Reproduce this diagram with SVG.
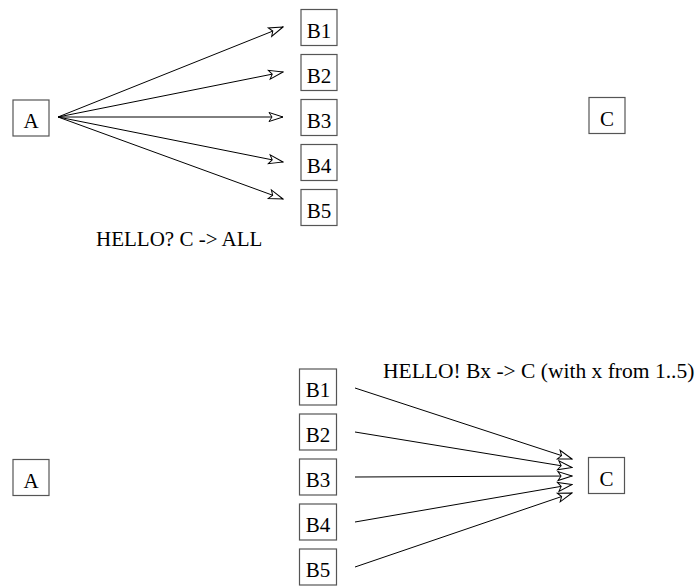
<svg xmlns="http://www.w3.org/2000/svg" width="697" height="586" viewBox="0 0 697 586">
  <style>
    .box { fill: #ffffff; stroke: #555555; stroke-width: 1.2; }
    .lbl { font-family: "Liberation Serif", "Times New Roman", serif; font-size: 21px; fill: #000000; text-anchor: middle; }
    .cap { font-family: "Liberation Serif", "Times New Roman", serif; font-size: 21px; fill: #000000; }
    .edge { stroke: #000000; stroke-width: 1; fill: none; marker-end: url(#open); }
  </style>
  <defs>
    <marker id="open" viewBox="-16 -6 17 12" refX="0" refY="0" markerWidth="17" markerHeight="12" markerUnits="userSpaceOnUse" orient="auto">
      <path d="M0,0 L-14,-4.5 L-11,0 L-14,4.5 Z" fill="#ffffff" stroke="#000000" stroke-width="1" stroke-linejoin="miter"/>
    </marker>
  </defs>

  <!-- upper scene: A broadcasts to every B -->
  <g id="connectors-top">
    <line class="edge" x1="58" y1="117" x2="283" y2="27"/>
    <line class="edge" x1="58" y1="117" x2="283" y2="72"/>
    <line class="edge" x1="58" y1="117" x2="283" y2="117"/>
    <line class="edge" x1="58" y1="117" x2="283" y2="162"/>
    <line class="edge" x1="58" y1="117" x2="283" y2="199"/>
  </g>
  <g id="A1"><rect class="box" x="13" y="100" width="36" height="36"/><text class="lbl" x="31" y="128">A</text></g>
  <g id="B1a"><rect class="box" x="301" y="9.5" width="36" height="36"/><text class="lbl" x="319" y="37.5">B1</text></g>
  <g id="B2a"><rect class="box" x="301" y="54.5" width="36" height="36"/><text class="lbl" x="319" y="82.5">B2</text></g>
  <g id="B3a"><rect class="box" x="301" y="99.5" width="36" height="36"/><text class="lbl" x="319" y="127.5">B3</text></g>
  <g id="B4a"><rect class="box" x="301" y="144.5" width="36" height="36"/><text class="lbl" x="319" y="172.5">B4</text></g>
  <g id="B5a"><rect class="box" x="301" y="189.5" width="36" height="36"/><text class="lbl" x="319" y="217.5">B5</text></g>
  <g id="C1"><rect class="box" x="589" y="97.5" width="36" height="36"/><text class="lbl" x="607" y="125.5">C</text></g>
  <text class="cap" x="96" y="246">HELLO? C -&gt; ALL</text>

  <!-- lower scene: every B answers C -->
  <g id="connectors-bottom">
    <line class="edge" x1="355" y1="388" x2="572" y2="459"/>
    <line class="edge" x1="355" y1="432" x2="572" y2="467.5"/>
    <line class="edge" x1="355" y1="477" x2="572" y2="476"/>
    <line class="edge" x1="355" y1="522" x2="572" y2="484.5"/>
    <line class="edge" x1="355" y1="567" x2="572" y2="493"/>
  </g>
  <g id="A2"><rect class="box" x="13" y="459.5" width="36" height="36"/><text class="lbl" x="31" y="487.5">A</text></g>
  <g id="B1b"><rect class="box" x="299.5" y="369" width="37" height="36"/><text class="lbl" x="318" y="397">B1</text></g>
  <g id="B2b"><rect class="box" x="299.5" y="414" width="37" height="36"/><text class="lbl" x="318" y="442">B2</text></g>
  <g id="B3b"><rect class="box" x="299.5" y="459" width="37" height="36"/><text class="lbl" x="318" y="487">B3</text></g>
  <g id="B4b"><rect class="box" x="299.5" y="504" width="37" height="36"/><text class="lbl" x="318" y="532">B4</text></g>
  <g id="B5b"><rect class="box" x="299.5" y="549" width="37" height="36"/><text class="lbl" x="318" y="577">B5</text></g>
  <g id="C2"><rect class="box" x="588.5" y="457.5" width="36" height="36"/><text class="lbl" x="606.5" y="485.5">C</text></g>
  <text class="cap" x="383" y="378" style="font-size:21.5px">HELLO! Bx -&gt; C (with x from 1..5)</text>
</svg>
